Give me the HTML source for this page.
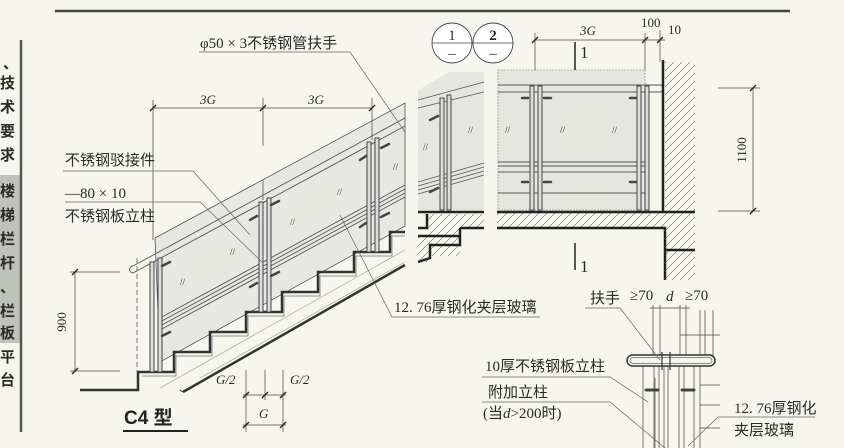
<!DOCTYPE html>
<html><head><meta charset="utf-8"><style>
html,body{margin:0;padding:0;background:#f6f5ee;}
svg{display:block;font-family:"Liberation Serif","Noto Serif CJK SC",serif;}
.t{font-family:"Liberation Serif","Noto Sans CJK SC",serif;fill:#2a2a2a;}
</style></head><body>
<svg width="844" height="448" viewBox="0 0 844 448" xmlns="http://www.w3.org/2000/svg">
<rect width="844" height="448" fill="#f6f5ee"/>
<line x1="55" y1="11" x2="790" y2="11" stroke="#444" stroke-width="2.5"/>
<rect x="0" y="175" width="20" height="168" fill="#bfc1bb"/>
<line x1="21" y1="40" x2="21" y2="432" stroke="#555" stroke-width="2.5"/>
<g class="t" font-size="15" font-family="Liberation Sans,Noto Sans CJK SC,sans-serif" font-weight="bold">
<text x="3" y="68">、</text><text x="0" y="88">技</text><text x="0" y="112">术</text><text x="0" y="136">要</text><text x="0" y="160">求</text>
<text x="0" y="196">楼</text><text x="0" y="220">梯</text><text x="0" y="244">栏</text><text x="0" y="268">杆</text><text x="0" y="292">、</text><text x="0" y="316">栏</text><text x="0" y="338">板</text>
<text x="0" y="362">平</text><text x="0" y="385">台</text>
</g>

<polygon points="155,238 405,103 405,226 160,362" fill="#e8e8e3" stroke="#555" stroke-width="0.8"/>
<line x1="263" y1="180" x2="263" y2="200" stroke="#555" stroke-width="0.8"/>
<polyline points="80,390 138,390 138,372 174,372 174,352 210,352 210,332 246,332 246,312 282,312 282,292 318,292 318,272 354,272 354,252 390,252 390,232 405,232" fill="none" stroke="#333" stroke-width="2.5"/>
<polyline points="142,376 176,376 176,356 212,356 212,336 248,336 248,316 284,316 284,296 320,296 320,276 356,276 356,256 392,256 392,236 405,236" fill="none" stroke="#777" stroke-width="0.8"/>
<line x1="183" y1="392" x2="405" y2="265" stroke="#333" stroke-width="2.5"/>
<line x1="180" y1="390" x2="183" y2="392" stroke="#333" stroke-width="1"/>
<g stroke="#999" stroke-width="0.6">
<line x1="160" y1="388" x2="405" y2="250"/><line x1="200" y1="378" x2="405" y2="262"/>
</g>
<g stroke="#555" stroke-width="0.9" fill="none">
<line x1="133" y1="266" x2="405" y2="118"/>
<line x1="133" y1="273" x2="405" y2="126"/>
<line x1="160" y1="318" x2="405" y2="185"/>
<line x1="160" y1="322" x2="405" y2="189"/>
<line x1="160" y1="326" x2="405" y2="193"/>
<line x1="160" y1="330" x2="405" y2="197"/>
<path d="M133,266 a3.5,3.5 0 0 0 0,7"/>
</g>
<line x1="137" y1="258" x2="137" y2="372" stroke="#555" stroke-width="0.8" stroke-dasharray="5,3"/>
<g stroke="#444" stroke-width="1" fill="#ddd">
<rect x="150" y="262" width="4" height="110"/><rect x="158" y="258" width="4" height="114"/>
<rect x="259" y="202" width="4" height="110"/><rect x="267" y="198" width="4" height="114"/>
<rect x="367" y="142" width="4" height="110"/><rect x="375" y="138" width="4" height="114"/>
</g>
<g stroke="#444" stroke-width="2.5" stroke-linecap="round">
<line x1="162" y1="266" x2="170" y2="262"/><line x1="162" y1="336" x2="170" y2="332"/>
<line x1="250" y1="220" x2="257" y2="216"/><line x1="271" y1="205" x2="279" y2="201"/><line x1="250" y1="287" x2="257" y2="283"/><line x1="271" y1="276" x2="279" y2="272"/>
<line x1="360" y1="160" x2="366" y2="156"/><line x1="381" y1="148" x2="389" y2="144"/><line x1="360" y1="227" x2="366" y2="223"/><line x1="381" y1="217" x2="389" y2="213"/>
</g>
<g class="t" font-size="9" fill="#666"><text x="180" y="285">//</text><text x="230" y="255">//</text><text x="290" y="225">//</text><text x="337" y="195">//</text><text x="393" y="170">//</text></g>
<g stroke="#444" stroke-width="0.7">
<line x1="153" y1="108" x2="372" y2="108"/>
<line x1="153" y1="100" x2="153" y2="240"/><line x1="263" y1="98" x2="263" y2="146"/><line x1="372" y1="98" x2="372" y2="140"/>
<line x1="75" y1="272" x2="75" y2="372"/><line x1="70" y1="272" x2="120" y2="272"/><line x1="70" y1="371" x2="120" y2="371"/>
<line x1="246" y1="370" x2="246" y2="432"/><line x1="265" y1="370" x2="265" y2="400"/><line x1="283" y1="370" x2="283" y2="432"/>
<line x1="243" y1="395" x2="286" y2="395"/><line x1="243" y1="425" x2="286" y2="425"/>
</g>
<g stroke="#222" stroke-width="1.3">
<line x1="150" y1="111" x2="156" y2="105"/><line x1="260" y1="111" x2="266" y2="105"/><line x1="369" y1="111" x2="375" y2="105"/>
<line x1="72" y1="275" x2="78" y2="269"/><line x1="72" y1="374" x2="78" y2="368"/>
<line x1="243" y1="398" x2="249" y2="392"/><line x1="262" y1="398" x2="268" y2="392"/><line x1="280" y1="398" x2="286" y2="392"/>
<line x1="243" y1="428" x2="249" y2="422"/><line x1="280" y1="428" x2="286" y2="422"/>
</g>
<g class="t" font-size="13" font-style="italic">
<text x="200" y="104">3G</text><text x="308" y="104">3G</text>
<text x="216" y="384">G/2</text><text x="290" y="384">G/2</text><text x="259" y="418">G</text>
</g>
<text class="t" font-size="13" transform="translate(66,322) rotate(-90)" text-anchor="middle">900</text>
<text x="124" y="424" font-size="19" font-family="Liberation Sans,Noto Sans CJK SC,sans-serif" font-weight="bold" fill="#222">C4 型</text>
<line x1="123" y1="431" x2="188" y2="431" stroke="#222" stroke-width="2"/>
<g class="t" font-size="15">
<text x="200" y="48">φ50 × 3不锈钢管扶手</text>
<text x="65" y="165">不锈钢驳接件</text>
<text x="65" y="198">—80 × 10</text>
<text x="65" y="221">不锈钢板立柱</text>
<text x="394" y="312">12. 76厚钢化夹层玻璃</text>
</g>
<g stroke="#666" stroke-width="0.7" fill="none">
<polyline points="199,52 350,52 405,132"/>
<polyline points="63,171 193,171 250,235"/>
<polyline points="65,202 200,202 262,262"/>
<polyline points="540,317 392,317 340,215"/>
</g>

<g stroke="#444" stroke-width="0.9" fill="#fff">
<circle cx="452" cy="43" r="20"/><circle cx="493" cy="43" r="20"/>
</g>
<line x1="432" y1="43" x2="513" y2="43" stroke="#444" stroke-width="0.8"/>
<g class="t" font-size="15" font-family="Liberation Sans,sans-serif" text-anchor="middle"><text x="452" y="40">1</text><text x="493" y="40" font-weight="bold">2</text><text x="452" y="58">–</text><text x="493" y="58">–</text></g>
<polygon points="418,90 450,72 484,72 484,210 418,210" fill="#e6e6e1"/>
<rect x="498" y="70" width="147" height="140" fill="#e6e6e1"/>
<rect x="498" y="70" width="147" height="140" fill="none" stroke="#777" stroke-width="0.6" stroke-dasharray="2,1"/>
<g stroke="#555" stroke-width="0.9">
<line x1="498" y1="162" x2="645" y2="162"/><line x1="498" y1="166" x2="645" y2="166"/><line x1="498" y1="172" x2="645" y2="172"/><line x1="498" y1="193" x2="645" y2="193"/>
<line x1="498" y1="85" x2="660" y2="85"/><line x1="498" y1="92" x2="660" y2="92"/>
<line x1="418" y1="100" x2="484" y2="82"/><line x1="418" y1="108" x2="484" y2="92"/>
<line x1="418" y1="182" x2="484" y2="163"/><line x1="418" y1="186" x2="484" y2="167"/><line x1="418" y1="190" x2="484" y2="171"/><line x1="418" y1="194" x2="484" y2="175"/>
</g>
<path d="M660,85 a3.5,3.5 0 0 1 0,7" fill="none" stroke="#555"/>
<g stroke="#444" stroke-width="1" fill="#ddd">
<rect x="440" y="98" width="4" height="112"/><rect x="447" y="95" width="4" height="115"/>
<rect x="530" y="86" width="4" height="124"/><rect x="538" y="86" width="4" height="124"/>
<rect x="637" y="86" width="4" height="124"/><rect x="645" y="86" width="4" height="124"/>
</g>
<g stroke="#444" stroke-width="2.5" stroke-linecap="round">
<line x1="522" y1="98" x2="528" y2="98"/><line x1="544" y1="98" x2="551" y2="98"/><line x1="630" y1="98" x2="636" y2="98"/>
<line x1="522" y1="182" x2="528" y2="182"/><line x1="544" y1="182" x2="551" y2="182"/><line x1="630" y1="182" x2="636" y2="182"/>
<line x1="430" y1="120" x2="438" y2="116"/><line x1="430" y1="192" x2="438" y2="188"/>
</g>
<g class="t" font-size="9" fill="#666"><text x="468" y="133">//</text><text x="505" y="133">//</text><text x="560" y="133">//</text><text x="612" y="133">//</text><text x="423" y="150">//</text></g>
<defs><pattern id="h" width="8" height="8" patternUnits="userSpaceOnUse"><line x1="0" y1="8" x2="8" y2="0" stroke="#666" stroke-width="0.6"/></pattern></defs>
<rect x="497" y="212" width="168" height="16" fill="url(#h)"/>
<rect x="665" y="62" width="30" height="218" fill="url(#h)"/>
<polygon points="427,214 484,214 484,228 460,228 460,256 430,256 430,262 418,262 418,236 427,236" fill="url(#h)"/>
<g stroke="#222" stroke-width="2.5" fill="none">
<line x1="497" y1="212" x2="695" y2="212"/>
<polyline points="497,228 665,228 665,280"/>
<line x1="663" y1="60" x2="663" y2="212"/>
<line x1="665" y1="250" x2="695" y2="250"/>
<polyline points="418,212 484,212"/>
<polyline points="427,214 427,228 418,228"/>
<polyline points="418,236 460,236"/>
<polyline points="460,228 484,228"/>
<polyline points="460,228 460,245 430,245 430,258 418,262"/>
</g>
<g stroke="#222" stroke-width="1.5"><line x1="575" y1="42" x2="575" y2="70"/><line x1="575" y1="243" x2="575" y2="270"/></g>
<g class="t" font-size="17" font-family="Liberation Sans,sans-serif"><text x="580" y="58">1</text><text x="580" y="272">1</text></g>
<g stroke="#444" stroke-width="0.7">
<line x1="535" y1="40" x2="665" y2="40"/><line x1="535" y1="33" x2="535" y2="70"/><line x1="645" y1="33" x2="645" y2="70"/><line x1="660" y1="30" x2="660" y2="62"/>
<line x1="753" y1="88" x2="753" y2="211"/><line x1="718" y1="88" x2="760" y2="88"/><line x1="718" y1="211" x2="760" y2="211"/>
</g>
<g stroke="#222" stroke-width="1.3">
<line x1="532" y1="43" x2="538" y2="37"/><line x1="642" y1="43" x2="648" y2="37"/><line x1="657" y1="43" x2="663" y2="37"/>
<line x1="750" y1="91" x2="756" y2="85"/><line x1="750" y1="214" x2="756" y2="208"/>
</g>
<g class="t" font-size="13"><text x="580" y="35" font-style="italic">3G</text><text x="641" y="27">100</text><text x="668" y="34">10</text></g>
<text class="t" font-size="13" transform="translate(746,150) rotate(-90)" text-anchor="middle">1100</text>

<g class="t" font-size="15"><text x="590" y="303">扶手</text><text x="630" y="300">≥70</text><text x="666" y="301" font-style="italic">d</text><text x="685" y="300">≥70</text></g>
<g stroke="#444" stroke-width="0.7">
<line x1="653" y1="305" x2="653" y2="355"/><line x1="660" y1="305" x2="660" y2="355"/><line x1="680" y1="305" x2="680" y2="355"/><line x1="686" y1="305" x2="686" y2="355"/>
<line x1="650" y1="308" x2="690" y2="308"/>
<line x1="700" y1="310" x2="700" y2="448"/><line x1="705" y1="310" x2="705" y2="360"/><line x1="713" y1="310" x2="713" y2="360"/>
<line x1="680" y1="335" x2="720" y2="335"/><line x1="700" y1="385" x2="720" y2="385"/><line x1="700" y1="405" x2="720" y2="405"/><line x1="700" y1="428" x2="720" y2="428"/>
<line x1="643" y1="366" x2="643" y2="448"/><line x1="694" y1="366" x2="694" y2="448"/>
<line x1="654" y1="366" x2="654" y2="448"/><line x1="659" y1="366" x2="659" y2="448"/>
<line x1="664" y1="366" x2="664" y2="448"/><line x1="668" y1="366" x2="668" y2="448"/>
<line x1="679" y1="366" x2="679" y2="448"/><line x1="684" y1="366" x2="684" y2="448"/>
<line x1="655" y1="378" x2="655" y2="448"/>
</g>
<rect x="627" y="355" width="88" height="11" rx="5.5" fill="#f6f5ee" stroke="#333" stroke-width="1.5"/>
<rect x="630" y="357.5" width="82" height="6" rx="3" fill="none" stroke="#666" stroke-width="0.7"/>
<g stroke="#333" stroke-width="1.2"><line x1="662" y1="352" x2="662" y2="370"/><line x1="670" y1="352" x2="670" y2="370"/></g>
<g stroke="#444" stroke-width="3" stroke-linecap="round"><line x1="646" y1="390" x2="658" y2="390"/><line x1="682" y1="390" x2="694" y2="390"/></g>
<g class="t" font-size="15">
<text x="485" y="371">10厚不锈钢板立柱</text>
<text x="488" y="397">附加立柱</text>
<text x="483" y="418">(当<tspan font-style="italic">d</tspan>&gt;200时)</text>
<text x="734" y="413">12. 76厚钢化</text>
<text x="734" y="435">夹层玻璃</text>
</g>
<g stroke="#666" stroke-width="0.7" fill="none">
<polyline points="585,308 620,308 660,360"/>
<polyline points="482,377 610,377 648,402"/>
<polyline points="482,402 610,402 665,448"/>
<polyline points="815,417 718,417 688,446"/>
</g>
</svg>
</body></html>
